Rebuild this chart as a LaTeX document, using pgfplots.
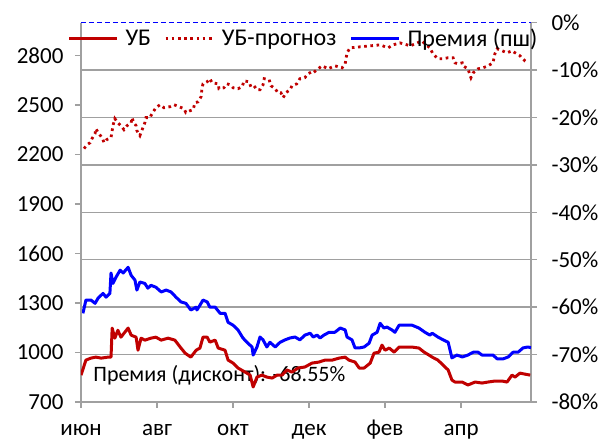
\documentclass[border=0pt]{standalone}
\usepackage{pgfplots}
\pgfplotsset{compat=1.18}
\usepackage{fontspec}
\setmainfont{Carlito}
\definecolor{ubred}{RGB}{192,0,0}
\definecolor{gridgray}{RGB}{160,160,160}
\definecolor{prblue}{RGB}{0,0,255}

\pgfplotstableread{
m v
0.00 863
0.13 954
0.26 966
0.39 972
0.53 966
0.71 972
0.79 972
0.82 1148
0.89 1087
0.97 1135
1.05 1093
1.24 1148
1.32 1105
1.45 1093
1.50 1014
1.58 1087
1.68 1075
1.84 1087
1.97 1093
2.11 1075
2.29 1087
2.47 1075
2.61 1033
2.74 996
2.89 972
3.03 1014
3.13 1027
3.21 1093
3.32 1093
3.39 1063
3.53 1075
3.61 1027
3.79 1014
3.87 954
4.00 936
4.13 906
4.32 881
4.45 863
4.53 791
4.63 851
4.76 863
4.89 851
5.03 845
5.16 863
5.29 863
5.42 894
5.55 881
5.71 906
5.89 912
6.08 936
6.26 942
6.42 954
6.61 954
6.79 966
6.95 972
7.05 954
7.21 942
7.32 906
7.45 906
7.61 936
7.71 996
7.84 1002
7.92 1045
8.00 1014
8.11 1027
8.24 1002
8.37 1033
8.53 1033
8.71 1033
8.89 1027
9.03 1002
9.16 984
9.24 972
9.39 954
9.58 912
9.66 894
9.76 833
9.84 821
10.03 821
10.18 803
10.37 821
10.55 815
10.71 821
10.89 827
11.08 827
11.21 821
11.34 863
11.42 851
11.55 875
11.68 869
11.82 863
}\ubtable

\pgfplotstableread{
m v
0.08 2236
0.16 2260
0.24 2272
0.29 2297
0.37 2327
0.39 2357
0.47 2327
0.55 2303
0.61 2272
0.68 2291
0.79 2303
0.82 2345
0.84 2375
0.89 2418
0.97 2393
1.05 2375
1.13 2351
1.21 2375
1.32 2393
1.34 2424
1.39 2393
1.45 2375
1.47 2345
1.55 2315
1.58 2333
1.63 2363
1.68 2393
1.71 2424
1.82 2424
1.84 2436
1.92 2466
1.97 2484
2.08 2502
2.18 2484
2.34 2490
2.45 2502
2.58 2490
2.71 2478
2.76 2454
2.87 2466
2.95 2472
3.00 2514
3.08 2520
3.16 2551
3.18 2593
3.21 2629
3.32 2641
3.39 2660
3.45 2635
3.61 2629
3.63 2599
3.76 2605
3.84 2629
3.92 2623
4.00 2605
4.13 2599
4.24 2611
4.29 2647
4.42 2641
4.47 2611
4.55 2617
4.63 2593
4.71 2593
4.79 2623
4.82 2660
4.95 2654
5.00 2617
5.11 2599
5.18 2575
5.26 2575
5.32 2545
5.39 2575
5.50 2593
5.55 2617
5.68 2629
5.76 2660
5.89 2666
5.97 2690
6.08 2702
6.11 2696
6.34 2738
6.50 2720
6.68 2738
6.87 2726
6.95 2750
7.00 2817
7.08 2847
7.34 2853
7.61 2859
7.87 2865
8.08 2847
8.21 2865
8.39 2877
8.58 2865
8.66 2859
8.79 2871
8.97 2889
9.05 2871
9.18 2847
9.26 2811
9.39 2781
9.53 2781
9.66 2787
9.79 2787
9.84 2756
9.92 2750
10.03 2756
10.05 2738
10.18 2720
10.26 2666
10.32 2696
10.45 2720
10.58 2726
10.71 2738
10.84 2756
10.89 2811
10.95 2841
11.08 2829
11.21 2817
11.34 2829
11.42 2817
11.55 2799
11.68 2768
11.76 2756
}\fctable

\pgfplotstableread{
m p
0.05 -61.3
0.13 -58.5
0.26 -58.5
0.37 -59.2
0.45 -58.1
0.58 -57.1
0.66 -57.9
0.76 -57.1
0.79 -52.8
0.84 -55.0
0.92 -53.7
1.03 -52.2
1.11 -52.8
1.24 -51.6
1.32 -53.3
1.42 -54.3
1.47 -56.4
1.55 -54.7
1.68 -55.0
1.76 -56.0
1.84 -55.4
1.97 -55.8
2.11 -56.8
2.24 -56.4
2.37 -56.8
2.50 -57.9
2.63 -58.9
2.76 -59.2
2.89 -60.6
3.03 -60.0
3.05 -60.6
3.13 -59.6
3.21 -58.5
3.32 -58.9
3.39 -60.0
3.53 -60.0
3.66 -61.3
3.79 -61.3
3.87 -63.2
4.00 -63.8
4.13 -64.8
4.26 -66.5
4.39 -67.6
4.50 -68.4
4.53 -70.1
4.63 -68.4
4.71 -66.3
4.79 -66.9
4.89 -68.4
4.97 -67.4
5.11 -68.4
5.24 -67.4
5.37 -66.9
5.50 -66.5
5.63 -66.3
5.76 -66.9
5.89 -65.9
6.03 -65.5
6.11 -66.3
6.21 -65.9
6.29 -66.5
6.39 -65.9
6.53 -65.3
6.68 -65.3
6.82 -64.4
6.95 -64.8
7.00 -66.3
7.13 -66.9
7.21 -68.6
7.32 -68.6
7.45 -68.4
7.58 -67.6
7.66 -65.9
7.79 -65.3
7.87 -63.4
7.97 -64.4
8.05 -64.2
8.18 -64.8
8.26 -65.3
8.37 -63.8
8.53 -63.8
8.71 -63.8
8.89 -64.4
9.05 -65.3
9.18 -65.9
9.24 -65.5
9.39 -66.3
9.53 -66.9
9.66 -67.4
9.76 -70.7
9.89 -70.1
10.03 -70.5
10.18 -70.1
10.32 -69.5
10.45 -69.5
10.55 -70.1
10.71 -70.1
10.84 -70.1
10.95 -70.9
11.11 -70.9
11.24 -70.5
11.37 -69.5
11.50 -69.5
11.63 -68.6
11.76 -68.4
11.84 -68.55
}\prtable

\begin{document}
\begin{tikzpicture}[font=\fontsize{22pt}{26pt}\selectfont]
\path[use as bounding box] (-81pt,-39pt) rectangle (522pt,402pt);
% right axis (premium, %)
\begin{axis}[
  at={(0pt,0pt)}, anchor=south west,
  scale only axis, width=450pt, height=379.4pt,
  xmin=0, xmax=11.84, ymin=-80, ymax=0,
  axis x line=none, axis y line=right,
  axis line style={-, draw=gridgray, line width=1.3pt},
  xtick=\empty,
  ytick={-70,-60,...,-10},
  extra y ticks={-80,0},
  extra y tick style={grid=none},
  yticklabel={\pgfmathprintnumber[assume math mode=true]{\tick}\%},
  ymajorgrids,
  major grid style={draw=gridgray, line width=1.3pt},
  tick align=outside, major tick length=6pt,
  tick style={draw=gridgray, line width=1.3pt},
  yticklabel style={font=\fontsize{23pt}{27pt}\selectfont, text=black, xshift=11pt},
]
\addplot[prblue, line width=1.4pt, dash pattern=on 5pt off 3pt] coordinates {(0,0) (11.84,0)};
\addplot[prblue, line width=3pt, line join=round] table[x=m, y=p] {\prtable};
\end{axis}
% left axis (UB)
\begin{axis}[
  at={(0pt,0pt)}, anchor=south west,
  scale only axis, width=450pt, height=379.4pt,
  xmin=0, xmax=11.84, ymin=700, ymax=3000,
  axis x line=bottom, axis y line=left,
  axis line style={-, draw=gridgray, line width=1.3pt},
  xtick={0,2,4,6,8,10},
  xticklabels={июн,авг,окт,дек,фев,апр},
  ytick={700,1000,1300,1600,1900,2200,2500,2800},
  /pgf/number format/assume math mode=true,
  /pgf/number format/set thousands separator={},
  tick align=outside, major tick length=6pt,
  tick style={draw=gridgray, line width=1.3pt},
  ticklabel style={font=\fontsize{23pt}{27pt}\selectfont, text=black},
  yticklabel style={xshift=-8pt},
  xticklabel style={text height=16pt, text depth=5pt, yshift=-8pt},
  legend columns=3,
  legend cell align=left,
  legend style={at={(axis description cs:-0.037,0.959)}, anchor=west,
    draw=none, fill=none, font=\fontsize{24pt}{28pt}\selectfont,
    /tikz/every even column/.append style={column sep=11pt},
    /tikz/every odd column/.append style={column sep=5pt}},
  legend image code/.code={\draw[#1] (0pt,0pt) -- (48pt,0pt);},
]
\node[anchor=base west, inner sep=0pt, text=black] at (axis cs:0.32,827) {Премия (дисконт): -68.55\%};
\addplot[ubred, line width=3pt, line join=round] table[x=m, y=v] {\ubtable};
\addlegendentry{УБ}
\addplot[ubred, line width=2.8pt, dash pattern=on 2.6pt off 3.6pt] table[x=m, y=v] {\fctable};
\addlegendentry{УБ-прогноз}
\addlegendimage{prblue, line width=3pt}
\addlegendentry{Премия (пш)}
\end{axis}
\end{tikzpicture}
\end{document}
